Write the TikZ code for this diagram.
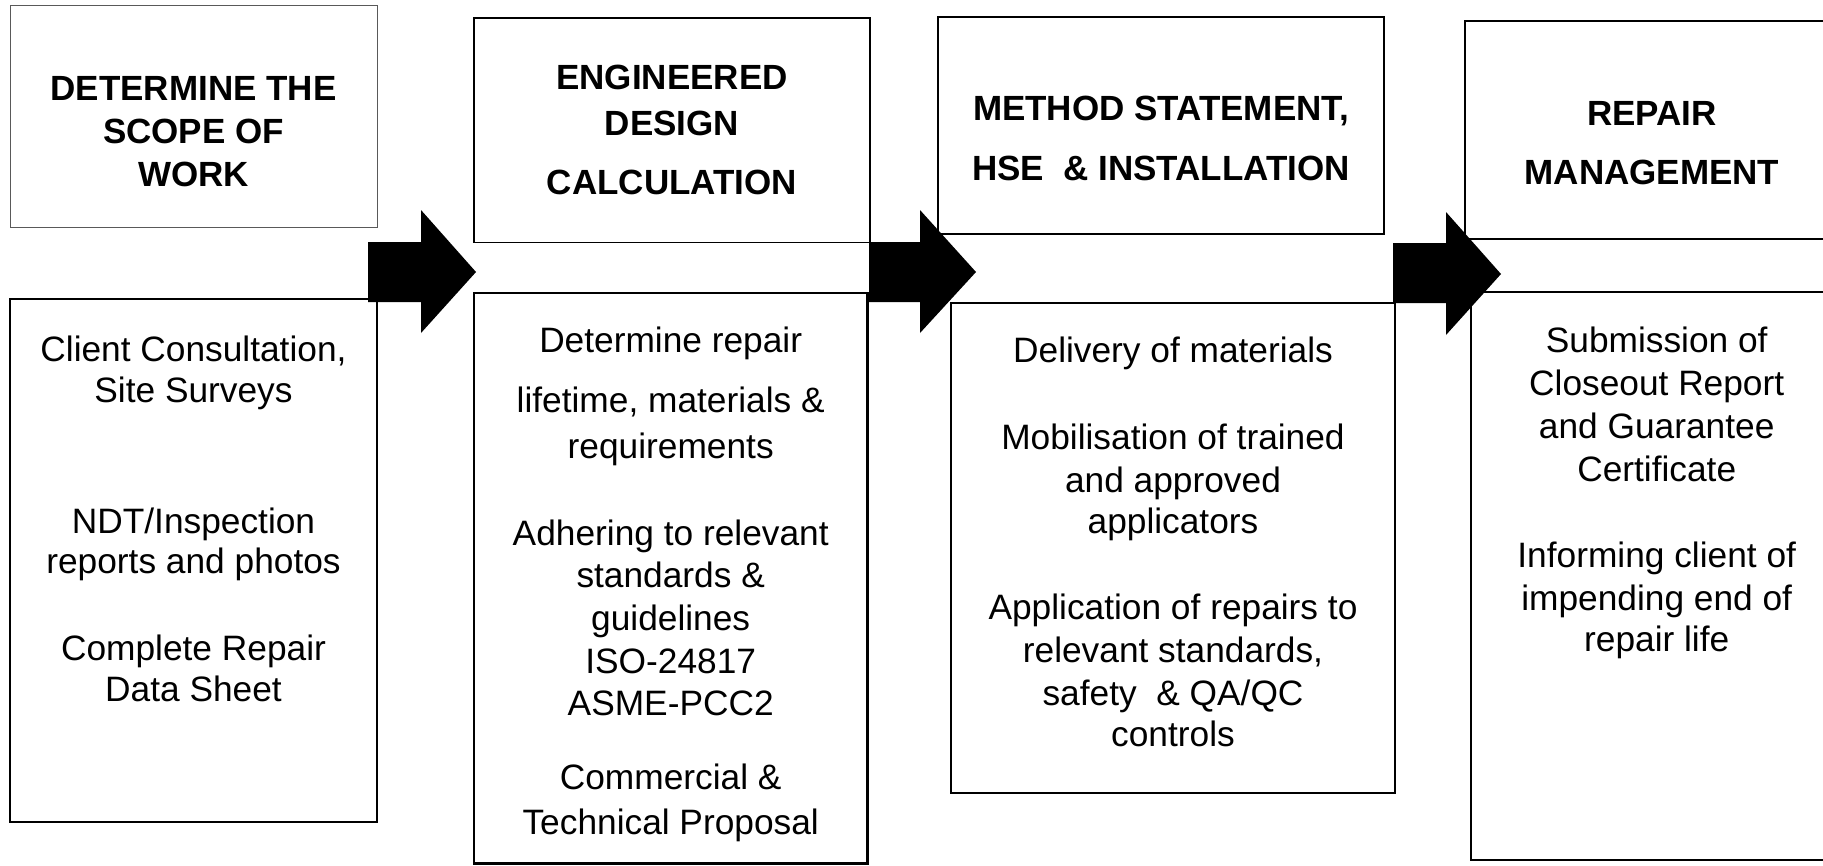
\documentclass[tikz,border=0pt]{standalone}
\usepackage{fontspec}
\setmainfont{Liberation Sans}
\newcommand{\mylines}[1]{\begin{tabular}[t]{@{}c@{}}#1\end{tabular}}
\begin{document}
\begin{tikzpicture}[x=1pt,y=-1pt,
  titletxt/.style={font=\fontsize{35}{43.3}\selectfont\bfseries, anchor=base, inner sep=0pt},
  bodytxt/.style={font=\fontsize{35.3}{41}\selectfont, anchor=base, inner sep=0pt},
  boxbase/.style={draw, rectangle, inner sep=0pt, outer sep=0pt},
  topbox/.style={boxbase, line width=1.8pt},
  botbox/.style={boxbase, line width=2.6pt},
  blockarrow/.style={fill=black, draw=none}]
\useasboundingbox (0,0) rectangle (1823,865);
\clip (0,0) rectangle (1823,865);
\fill[white] (0,0) rectangle (1823,865);

% boxes
\node[boxbase, draw=black!65, line width=1pt, minimum width=367pt, minimum height=222pt] (t1) at (193.5,116) {};
\node[botbox, minimum width=367pt, minimum height=523pt] (d1) at (193.5,560.5) {};
\node[topbox, minimum width=396pt, minimum height=224.5pt] (t2) at (672,130.25) {};
\node[botbox, minimum width=393.5pt, minimum height=570.5pt] (d2) at (670.75,578.25) {};
\node[topbox, minimum width=446pt, minimum height=217.3pt] (t3) at (1161,125.35) {};
\node[botbox, minimum width=444pt, minimum height=490pt] (d3) at (1173,548) {};
\node[topbox, minimum width=374pt, minimum height=217.7pt] (t4) at (1652,129.85) {};
\node[botbox, minimum width=371pt, minimum height=568pt] (d4) at (1656.5,576) {};

% titles
\node[titletxt] (h1) at (193.5,100) {\mylines{DETERMINE THE\\SCOPE OF\\WORK}};
\node[titletxt] (h2) at (672,89.3) {\mylines{ENGINEERED\\[2.4pt]DESIGN\\[16pt]CALCULATION}};
\node[titletxt] (h3) at (1161,120) {\mylines{METHOD STATEMENT,\\[16.7pt]HSE~~\& INSTALLATION}};
\node[titletxt] (h4) at (1652,125) {\mylines{REPAIR\\[16pt]MANAGEMENT}};

% box 1 body
\node[bodytxt] (p11) at (193.5,361.3) {\mylines{Client Consultation,\\Site Surveys}};
\node[bodytxt] (p12) at (193.5,533) {\mylines{NDT/Inspection\\[-1pt]reports and photos}};
\node[bodytxt] (p13) at (193.5,660.6) {\mylines{Complete Repair\\Data Sheet}};

% box 2 body
\node[bodytxt] (p21) at (670.7,352.8) {\mylines{Determine repair\\[18.7pt]lifetime, materials \&\\[4.9pt]requirements}};
\node[bodytxt] (p22) at (670.7,545) {\mylines{Adhering to relevant\\[1.8pt]standards \&\\[1.9pt]guidelines\\[2pt]ISO-24817\\[1.1pt]ASME-PCC2}};
\node[bodytxt] (p23) at (670.7,789.3) {\mylines{Commercial \&\\[3.7pt]Technical Proposal}};

% box 3 body
\node[bodytxt] (p31) at (1173,362.8) {\mylines{Delivery of materials}};
\node[bodytxt] (p32) at (1173,449.8) {\mylines{Mobilisation of trained\\[1.2pt]and approved\\[0.7pt]applicators}};
\node[bodytxt] (p33) at (1173,619.6) {\mylines{Application of repairs to\\[1.9pt]relevant standards,\\[1.9pt]safety~~\& QA/QC\\controls}};

% box 4 body
\node[bodytxt] (p41) at (1656.7,352.8) {\mylines{Submission of\\[1.2pt]Closeout Report\\[2.6pt]and Guarantee\\[1.9pt]Certificate}};
\node[bodytxt] (p42) at (1656.7,567.3) {\mylines{Informing client of\\[1.9pt]impending end of\\repair life}};

% block arrows
\fill[blockarrow] (368,242) -- (421,242) -- (421,210) -- (476,272) -- (421,333) -- (421,302) -- (368,302) -- cycle;
\fill[blockarrow] (869,242) -- (920,242) -- (920,210) -- (976,272) -- (920,333) -- (920,302) -- (869,302) -- cycle;
\fill[blockarrow] (1393,243) -- (1446,243) -- (1446,212) -- (1501,274) -- (1446,335) -- (1446,303) -- (1393,303) -- cycle;
\end{tikzpicture}
\end{document}
